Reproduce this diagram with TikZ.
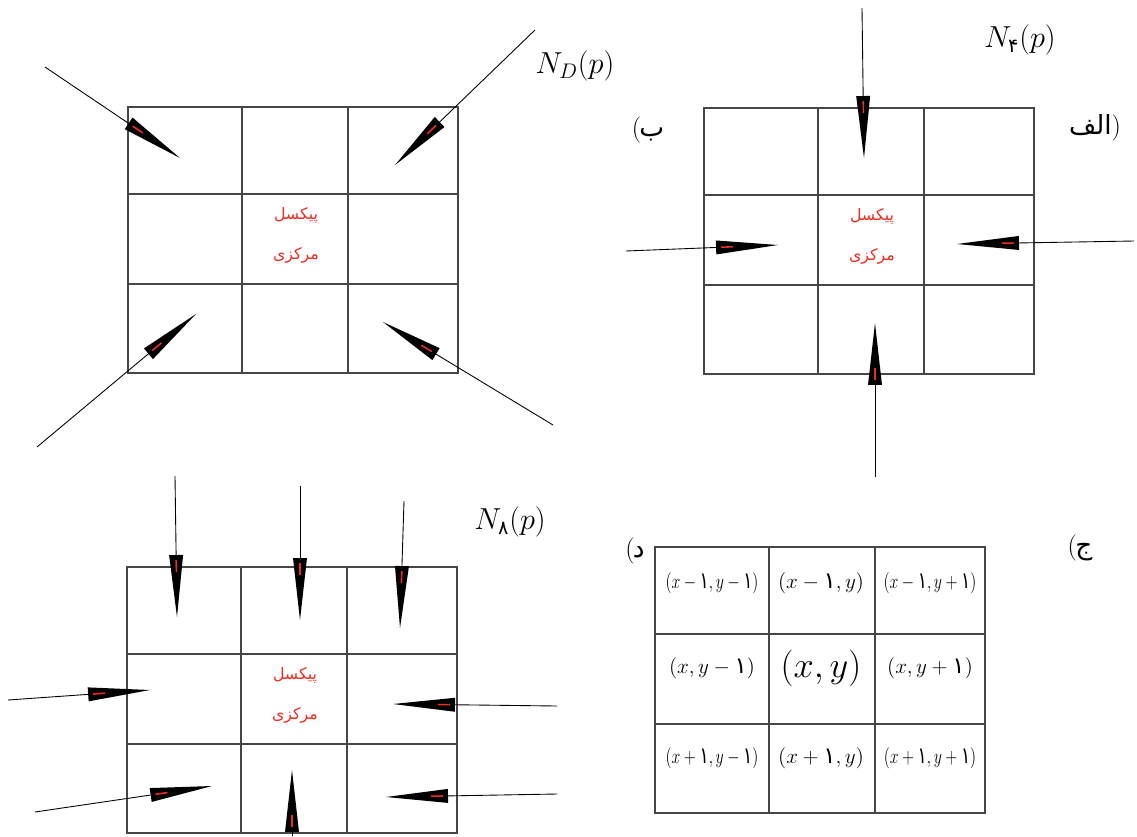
\documentclass[tikz,border=0pt]{standalone}
\usepackage{fontspec}
\newfontfamily\fa[Script=Arabic]{DejaVu Sans}
\TeXXeTstate=1
\usetikzlibrary{calc}
\definecolor{gridgray}{RGB}{70,70,70}
\definecolor{pxred}{RGB}{235,45,35}
\newcommand{\fnum}[1]{\mbox{\fa #1}}
\newcommand{\narrow}[1]{\scalebox{0.75}[1]{#1}}
% thin line ending in a long black spike
\newcommand{\spike}[2]{%
  \coordinate (s0) at (#1); \coordinate (s1) at (#2);
  \coordinate (sb) at ($(s1)!1.24cm!(s0)$);
  \draw[spikeline] (s0) -- (sb);
  \fill[spikehead] ($(sb)!0.14cm!90:(s1)$) -- (s1) -- ($(sb)!0.14cm!-90:(s1)$) -- cycle;
  \draw[spikemark] ($(sb)!0.1cm!(s1)$) -- ($(sb)!0.34cm!(s1)$);
}

\begin{document}
\begin{tikzpicture}[x=0.02cm,y=-0.02cm,
    gridline/.style={gridgray,line width=0.7pt},
    spikeline/.style={black,line width=0.5pt},
    spikehead/.style={fill=black},
    spikemark/.style={pxred,line width=0.9pt},
    redtag/.style={text=pxred,font=\fa\fontsize{9}{11}\selectfont},
    caption/.style={font=\fontsize{18}{20}\selectfont},
    partlabel/.style={font=\fontsize{15}{18}\selectfont},
    cell/.style={font=\fontsize{13}{15}\selectfont}]
  \useasboundingbox (0,0) rectangle (1137,836);

  % the four 3x3 grids
  \foreach \nm/\gx/\gy in {b/128/107,a/704/108,c/127/567,d/655/547}{
    \coordinate (\nm) at (\gx,\gy);
    \draw[gridline] (\nm) rectangle ++(330,266);
    \foreach \cx in {114,220} \draw[gridline] ($(\nm)+(\cx,0)$) -- ++(0,266);
    \foreach \cy in {87,177} \draw[gridline] ($(\nm)+(0,\cy)$) -- ++(330,0);
  }
  \foreach \nm in {a,b,c}{
    \node[redtag] (\nm-t1) at ($(\nm)+(168,108)$) {پیکسل};
    \node[redtag] (\nm-t2) at ($(\nm)+(168,148)$) {مرکزی};
  }

  % captions
  \node[caption] (nd) at (575,66) {$N_D(p)$};
  \node[caption] (n4) at (1020,40) {$N_{\hbox{\fa\fontsize{11}{11}\selectfont ۴}}(p)$};
  \node[caption] (n8) at (510,522) {$N_{\hbox{\fa\fontsize{11}{11}\selectfont ۸}}(p)$};
  \node[partlabel] (lb) at (648,130) {(\kern-1pt{\fa ب}};
  \node[partlabel] (la) at (1095,128) {{\fa الف})};
  \node[partlabel] (ld) at (635,551) {(\kern-1pt{\fa د}};
  \node[partlabel] (lj) at (1080,548) {(\kern-1pt{\fa ج}};

  % N_D
  \spike{45,67}{180,158}
  \spike{535,30}{395,165}
  \spike{37,447}{196,314}
  \spike{553,425}{383,322}
  % N_4
  \spike{862,8}{864,158}
  \spike{626,251}{778,245}
  \spike{1134,241}{957,244}
  \spike{875,477}{875,323}
  % N_8
  \spike{175,476}{177,617}
  \spike{300,486}{300,620}
  \spike{404,501}{400,628}
  \spike{8,700}{150,690}
  \spike{557,706}{393,704}
  \spike{35,812}{212,786}
  \spike{557,794}{386,797}
  \spike{292,836}{292,770}

  % coordinates of the neighbours
  \node[cell] (d11) at ($(d)+(57,36)$) {\narrow{$(x-\fnum{۱},y-\fnum{۱})$}};
  \node[cell] (d12) at ($(d)+(166,36)$) {$(x-\fnum{۱},y)$};
  \node[cell] (d13) at ($(d)+(275,36)$) {\narrow{$(x-\fnum{۱},y+\fnum{۱})$}};
  \node[cell] (d21) at ($(d)+(57,121)$) {$(x,y-\fnum{۱})$};
  \node[font=\fontsize{20}{22}\selectfont] (d22) at ($(d)+(166,121)$) {$(x,y)$};
  \node[cell] (d23) at ($(d)+(275,121)$) {$(x,y+\fnum{۱})$};
  \node[cell] (d31) at ($(d)+(57,211)$) {\narrow{$(x+\fnum{۱},y-\fnum{۱})$}};
  \node[cell] (d32) at ($(d)+(166,211)$) {$(x+\fnum{۱},y)$};
  \node[cell] (d33) at ($(d)+(275,211)$) {\narrow{$(x+\fnum{۱},y+\fnum{۱})$}};
\end{tikzpicture}
\end{document}
